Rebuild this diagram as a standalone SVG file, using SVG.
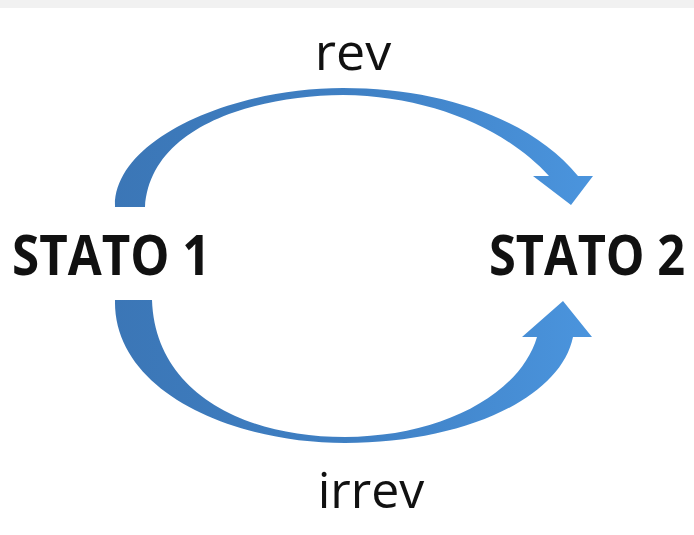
<svg xmlns="http://www.w3.org/2000/svg" width="694" height="535" viewBox="0 0 694 535">
<defs>
<linearGradient id="g" x1="110" y1="0" x2="600" y2="0" gradientUnits="userSpaceOnUse">
<stop offset="0" stop-color="#3b76b6"/>
<stop offset="0.5" stop-color="#3f80c4"/>
<stop offset="1" stop-color="#4b95de"/>
</linearGradient>
<style>
.lbl{font-family:"Open Sans","DejaVu Sans",sans-serif;fill:#111;}
.state{font-family:"Open Sans","DejaVu Sans",sans-serif;font-weight:bold;fill:#111;font-size:56px;}
.arr{fill:url(#g);}
</style>
</defs>
<rect x="0" y="0" width="694" height="535" fill="#ffffff"/>
<rect x="0" y="0" width="694" height="8" fill="#f1f1f1"/>
<g id="node-stato1"><text class="state" transform="translate(12,275) scale(0.88,1)" x="0" y="0">STATO 1</text></g>
<g id="node-stato2"><text class="state" transform="translate(489,275) scale(0.87,1)" x="0" y="0">STATO 2</text></g>
<g id="connectors">
<g id="edge-rev">
<path class="arr" d="M115,207 C113,140 230,88 343,88 C440,88 530,118 578,176 L593,176 L571,205 L533,176 L549,176 C505,128 430,96 343,95 C250,96 150,128 145,207 Z"/>
<text class="lbl" x="353" y="70" font-size="52" text-anchor="middle">rev</text>
</g>
<g id="edge-irrev">
<path class="arr" d="M115,300 C113,390 230,443 345,443 C460,443 560,400 573,337 L592,337 L563,301 L522,337 L537,337 C520,395 440,437 345,437 C240,437 155,390 152,300 Z"/>
<text class="lbl" x="371" y="508" font-size="50" text-anchor="middle">irrev</text>
</g>
</g>
</svg>
